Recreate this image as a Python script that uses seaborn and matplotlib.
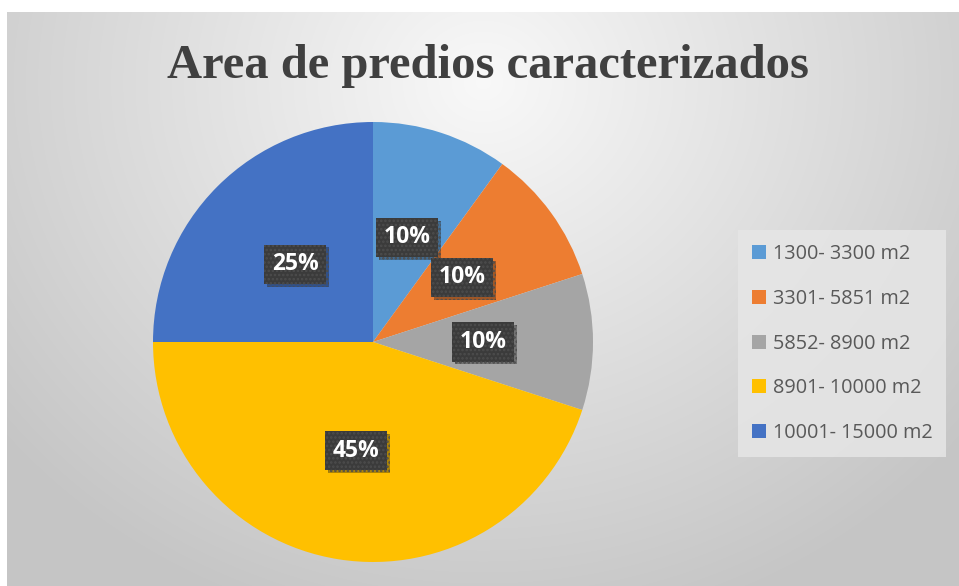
import numpy as np
import matplotlib
matplotlib.use("Agg")
import matplotlib.pyplot as plt
import matplotlib.patheffects as pe
import seaborn as sns

# ---- data ----
categories = ["1300- 3300 m2", "3301- 5851 m2", "5852- 8900 m2",
              "8901- 10000 m2", "10001- 15000 m2"]
shares = [10, 10, 10, 45, 25]
colors = ["#5B9BD5", "#ED7D31", "#A5A5A5", "#FFC000", "#4472C4"]
title = "Area de predios caracterizados"

sns.set_style("white")
plt.rcParams["font.family"] = ["Open Sans", "DejaVu Sans"]
plt.rcParams["hatch.linewidth"] = 1.2

W, H = 959, 586
fig = plt.figure(figsize=(W / 100, H / 100), dpi=100)
fig.patch.set_facecolor("white")

# background radial gradient (chart area starts at x=7, y=12)
bx0, by0 = 7, 12
bg = fig.add_axes([bx0 / W, 0, 1 - bx0 / W, (H - by0) / H])
bw, bh = W - bx0, H - by0
yy, xx = np.mgrid[0:bh, 0:bw]
d = np.sqrt(((xx - bw * 0.5) / 620.0) ** 2 + ((yy - 70) / 560.0) ** 2)
val = 0.975 - 0.20 * np.clip(d, 0, 1.0)
bg.imshow(np.dstack([val, val, val]), aspect="auto", interpolation="bilinear",
          extent=[0, bw, bh, 0])
bg.set_axis_off()

# pie axes: center (373, 342), radius 220 px
cx, cy, r = 373, 342, 220
ax = fig.add_axes([(cx - r) / W, (H - cy - r) / H, 2 * r / W, 2 * r / H])
wedges, texts, autotexts = ax.pie(
    shares, colors=colors, startangle=90, counterclock=False,
    radius=1.0, autopct=lambda p: f"{p:.0f}%", pctdistance=0.5,
    wedgeprops=dict(linewidth=0),
    textprops=dict(color="white", fontsize=16.5, fontweight="bold",
                   family=["Open Sans", "DejaVu Sans"]))
ax.set_xlim(-1, 1)
ax.set_ylim(-1, 1)
ax.set_aspect("equal")
ax.set_axis_off()

for t in autotexts:
    t.set_bbox(dict(boxstyle="square,pad=0.33", facecolor="#3b3b3b",
                    edgecolor="#4d4d4d", hatch="....", linewidth=0))
    bp = t.get_bbox_patch()
    bp.set_path_effects([pe.SimplePatchShadow(offset=(2, -2), alpha=0.35),
                         pe.Normal()])

# title
fig.text(488 / W, 1 - 78 / H, title, ha="center", va="baseline",
         fontsize=35, fontweight="bold", color="#404040",
         family=["Liberation Serif", "DejaVu Serif"])

# legend
lx0, ly0 = 738, 230
leg = fig.legend(wedges, categories, loc="upper left",
                 bbox_to_anchor=(lx0 / W, 1 - ly0 / H),
                 frameon=True, fancybox=False, borderaxespad=0,
                 fontsize=14.3, handlelength=0.7, handleheight=0.7,
                 handletextpad=0.35, labelspacing=1.25, borderpad=0.7)
leg.get_frame().set_facecolor("#e6e6e6")
leg.get_frame().set_edgecolor("none")
leg.get_frame().set_alpha(0.85)
for txt in leg.get_texts():
    txt.set_color("#595959")

fig.savefig("out.png", dpi=100)
